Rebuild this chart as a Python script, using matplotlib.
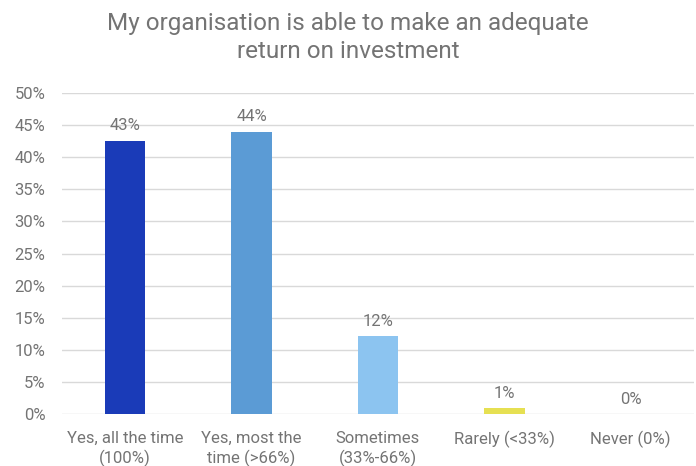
import matplotlib
matplotlib.use("Agg")
import matplotlib.pyplot as plt
from matplotlib.ticker import FuncFormatter

categories = ["Yes, all the time\n(100%)", "Yes, most the\ntime (>66%)",
              "Sometimes\n(33%-66%)", "Rarely (<33%)", "Never (0%)"]
values = [42.6, 44.0, 12.2, 0.9, 0.0]
colors = ["#1a3bb8", "#5b9bd5", "#8cc4f0", "#e6e052", "#cccccc"]
title = "My organisation is able to make an adequate\nreturn on investment"

plt.rcParams["font.family"] = ["Roboto", "DejaVu Sans"]
text_color = "#747474"

fig = plt.figure(figsize=(6.96, 4.66), dpi=100)
ax = fig.add_axes([0.089, 0.1116, 0.908, 0.6888])

x = range(len(categories))
ax.bar(x, values, width=0.32, color=colors, zorder=3)
for xi, v in zip(x, values):
    ax.text(xi, v + 1.1, f"{v:.0f}%", ha="center", va="bottom",
            fontsize=12, color=text_color)

ax.set_ylim(0, 50)
ax.set_xlim(-0.5, len(categories) - 0.5)
ax.set_yticks(range(0, 51, 5))
ax.yaxis.set_major_formatter(FuncFormatter(lambda v, p: f"{v:.0f}%"))
ax.set_xticks(list(x))
ax.set_xticklabels(categories, linespacing=1.3)
ax.grid(axis="y", color="#d9d9d9", linewidth=1, zorder=0)
for s in ax.spines.values():
    s.set_visible(False)
ax.tick_params(axis="both", length=0, labelsize=12, colors=text_color)
ax.tick_params(axis="y", pad=12)
ax.tick_params(axis="x", pad=12)

fig.suptitle(title, y=0.975, fontsize=17.5, color=text_color,
             linespacing=1.3)

fig.savefig("out.png", dpi=100, facecolor="white")
